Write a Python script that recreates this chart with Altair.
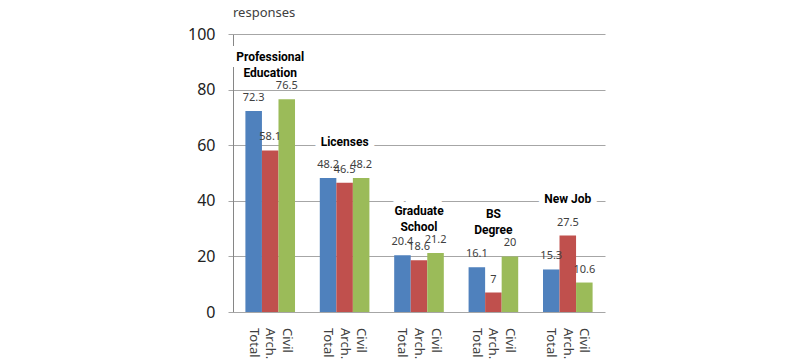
import altair as alt
import pandas as pd

groups = ["Professional\nEducation", "Licenses", "Graduate\nSchool", "BS\nDegree", "New Job"]
series = ["Total", "Arch.", "Civil"]
total = [72.3, 48.2, 20.4, 16.1, 15.3]
arch = [58.1, 46.5, 18.6, 7, 27.5]
civil = [76.5, 48.2, 21.2, 20, 10.6]
y_ticks = [0, 20, 40, 60, 80, 100]
y_title = ["responses"]
colors = ["#4F81BD", "#C0504D", "#9BBB59"]

rows = []
for i, g in enumerate(groups):
    for s, vals in zip(series, [total, arch, civil]):
        rows.append({"group": g, "series": s, "value": vals[i], "label": f"{vals[i]:g}"})
df = pd.DataFrame(rows)

FONT = "Noto Sans"
BOLD_FONT = "Roboto"

xenc = alt.X("group:N", sort=groups, axis=None,
             scale=alt.Scale(paddingInner=0.333, paddingOuter=0.1667))
xoff = alt.XOffset("series:N", sort=series,
                   scale=alt.Scale(paddingInner=0, paddingOuter=0))
yscale = alt.Scale(domain=[0, 100])

base = alt.Chart(df).encode(x=xenc, xOffset=xoff)

bars = base.mark_bar().encode(
    y=alt.Y("value:Q", scale=yscale,
            axis=alt.Axis(values=y_ticks, title=None, grid=True, gridColor="#A6A6A6",
                          domainColor="#868686", tickColor="#A6A6A6", tickSize=5,
                          labelFontSize=16, labelColor="#222222", labelFont=FONT,
                          labelPadding=13)),
    color=alt.Color("series:N", scale=alt.Scale(domain=series, range=colors), legend=None),
)

values = base.mark_text(baseline="middle", dy=-13, fontSize=11, color="#404040", font=FONT).encode(
    y=alt.Y("value:Q", scale=yscale), text="label:N"
)

series_labels = base.mark_text(angle=90, align="left", baseline="middle", fontSize=13,
                               color="#404040", font=FONT).encode(
    y=alt.value(294), text="series:N"
)

glab = alt.Chart(df).transform_aggregate(
    maxv="max(value)", groupby=["group"]
).transform_calculate(
    ly="datum.maxv + 13 + (indexof(datum.group, '\\n') >= 0 ? 2.2 : 0)"
).encode(
    x=alt.X("group:N", sort=groups, axis=None),
    y=alt.Y("ly:Q", scale=yscale),
    text="group:N",
)
halo = glab.mark_text(fontSize=12, fontWeight="bold", font=BOLD_FONT, lineBreak="\n",
                      lineHeight=16, baseline="middle", color="white", stroke="white",
                      strokeWidth=12)
gtext = glab.mark_text(fontSize=12, fontWeight="bold", font=BOLD_FONT, lineBreak="\n",
                       lineHeight=16, baseline="middle", color="black")

title = alt.Chart(pd.DataFrame({"t": y_title})).mark_text(
    align="left", baseline="alphabetic", fontSize=13, color="#404040", font=FONT
).encode(x=alt.value(0), y=alt.value(-17), text="t:N")

chart = alt.layer(bars, halo, gtext, values, series_labels, title).properties(
    width=372, height=278,
    autosize=alt.AutoSizeParams(type="none"),
    padding={"left": 225, "top": 26, "right": 10, "bottom": 49},
).configure_view(stroke=None)

chart.save("out.html", embed_options={"renderer": "svg", "actions": False})
